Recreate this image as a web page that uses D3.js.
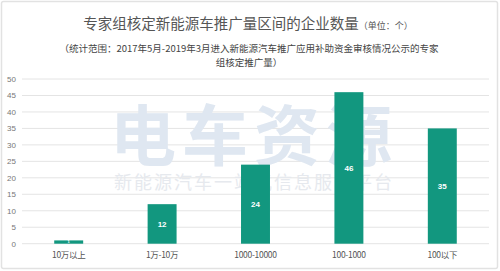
<!DOCTYPE html>
<html><head><meta charset="utf-8">
<script src="https://cdn.jsdelivr.net/npm/d3@7"></script>
<style>body{margin:0;background:#fff;}svg{display:block;font-family:"Noto Sans CJK SC","Microsoft YaHei",sans-serif;}</style>
</head><body>
<script>
const categories = ["10万以上", "1万-10万", "1000-10000", "100-1000", "100以下"];
const values = [1, 12, 24, 46, 35];
const yTicks = [0, 5, 10, 15, 20, 25, 30, 35, 40, 45, 50];

const W = 500, H = 271;
const svg = d3.select("body").append("svg").attr("width", W).attr("height", H);
svg.append("rect").attr("x", 1.5).attr("y", 1.5).attr("width", W - 4).attr("height", H - 4)
  .attr("fill", "#fff").attr("stroke", "#e2e2e2").attr("stroke-width", 1.5).attr("rx", 2);

const x = d3.scaleBand().domain(categories).range([22, 489]).paddingInner(0.69).paddingOuter(0.345);
const y = d3.scaleLinear().domain([0, 50]).range([243.7, 79]);

// gridlines
svg.append("g").selectAll("line").data(yTicks).join("line")
  .attr("x1", 22).attr("x2", 489).attr("y1", d => y(d)).attr("y2", d => y(d))
  .attr("stroke", "#e4e4e4").attr("stroke-width", 1);

// watermark
svg.append("text").attr("x", 254).attr("y", 160).attr("text-anchor", "middle")
  .attr("font-size", 66).attr("font-weight", "bold").attr("fill", "#dfe7f1").attr("letter-spacing", 6)
  .text("电车资源");
svg.append("text").attr("x", 254).attr("y", 189).attr("text-anchor", "middle")
  .attr("font-size", 18).attr("fill", "#e6e9ee").attr("letter-spacing", 2)
  .text("新能源汽车一站式信息服务平台");

// y axis labels
svg.append("g").selectAll("text").data(yTicks).join("text")
  .attr("x", 16).attr("y", d => y(d)).attr("dy", "0.35em").attr("text-anchor", "end")
  .attr("font-size", 8).attr("fill", "#777").attr("font-family", "Liberation Sans, Arial, sans-serif")
  .text(d => d);

// bars
svg.append("g").selectAll("rect").data(values).join("rect")
  .attr("x", (d, i) => x(categories[i])).attr("width", x.bandwidth())
  .attr("y", d => y(d)).attr("height", d => y(0) - y(d))
  .attr("fill", "#12977f");

// value labels
svg.append("g").selectAll("text").data(values).join("text")
  .attr("x", (d, i) => x(categories[i]) + x.bandwidth() / 2)
  .attr("y", d => (y(d) + y(0)) / 2).attr("dy", "0.35em").attr("text-anchor", "middle")
  .attr("font-size", d => d < 3 ? 4 : 8).attr("font-weight", "bold").attr("fill", "#fff")
  .attr("font-family", "Liberation Sans, Arial, sans-serif")
  .text(d => d);

// x labels
svg.append("g").selectAll("text").data(categories).join("text")
  .attr("x", d => x(d) + x.bandwidth() / 2).attr("y", 258).attr("text-anchor", "middle")
  .attr("font-size", 8.5).attr("fill", "#555").attr("letter-spacing", -0.3)
  .text(d => d);

// title
const t = svg.append("text").attr("x", 248).attr("y", 29).attr("text-anchor", "middle").attr("fill", "#555");
t.append("tspan").attr("font-size", 14.5).text("专家组核定新能源车推广量区间的企业数量");
t.append("tspan").attr("font-size", 9).text("（单位：个）");

svg.append("text").attr("x", 249).attr("y", 52).attr("text-anchor", "middle")
  .attr("font-size", 9.5).attr("fill", "#444")
  .text("（统计范围：2017年5月-2019年3月进入新能源汽车推广应用补助资金审核情况公示的专家");
svg.append("text").attr("x", 249).attr("y", 66).attr("text-anchor", "middle")
  .attr("font-size", 9.5).attr("fill", "#444")
  .text("组核定推广量）");
</script>
</body></html>
